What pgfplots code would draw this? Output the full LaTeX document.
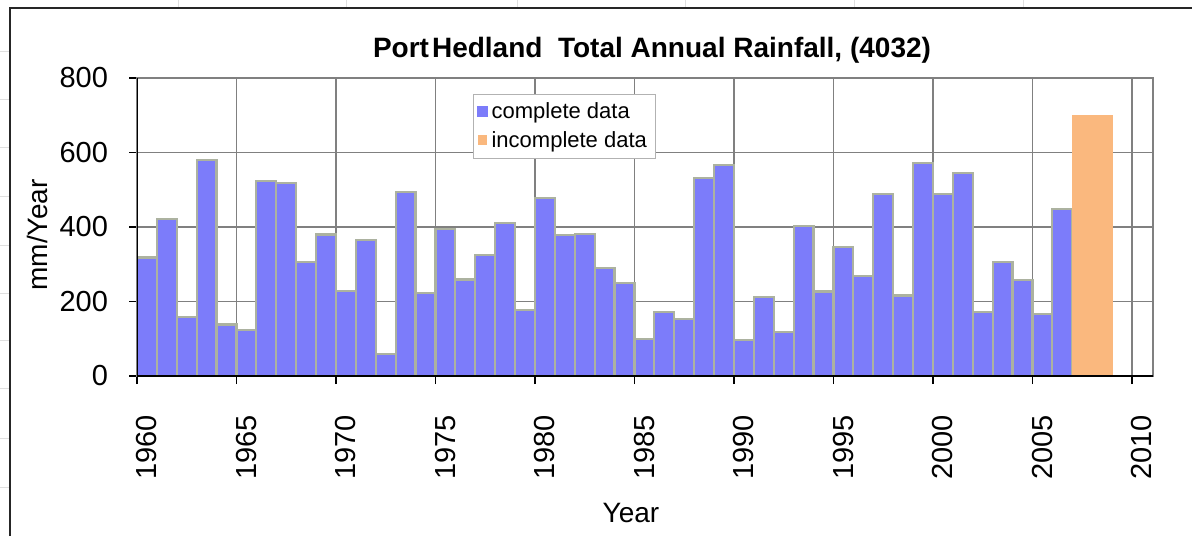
\documentclass[border=0pt]{standalone}
\usepackage{fontspec}
\setmainfont{Liberation Sans}
\usepackage{pgfplots}
\pgfplotsset{compat=1.18}
\definecolor{barblue}{RGB}{124,124,250}
\definecolor{barorange}{RGB}{250,184,126}
\definecolor{baredge}{RGB}{172,178,160}
\definecolor{gridgray}{RGB}{128,128,128}
\begin{document}
\begin{tikzpicture}
\useasboundingbox (0,0) rectangle (596pt,268pt);
% spreadsheet background lines
\foreach \xx in {178,346,517,685,854,1023} {\draw[gray!25, line width=0.5pt] (\xx*0.5pt,268pt) -- (\xx*0.5pt,264pt);}
\foreach \yy in {52,100,148,197,245,293,340,388,438,487} {\draw[gray!25, line width=0.5pt] (0pt,{(536-\yy)*0.5pt}) -- (5pt,{(536-\yy)*0.5pt});}
% chart area border
\draw[black!85, line width=1pt] (5pt,0pt) -- (5pt,264pt) -- (596pt,264pt);
\begin{axis}[
  at={(68.5pt,80pt)}, anchor=south west,
  scale only axis, width=508pt, height=149pt,
  xmin=1960, xmax=2011.06, ymin=0, ymax=800,
  xtick={1960,1965,...,2010}, ytick={0,200,...,800},
  /pgf/number format/assume math mode=true,
  xticklabel={\pgfmathprintnumber[1000 sep={},fixed,precision=0,assume math mode=true]{\tick}},
  tick pos=left, tick align=outside, major tick length=4pt,
  tick style={black, line width=0.8pt},
  grid=major, major grid style={gridgray, line width=0.6pt},
  axis line style={gridgray, line width=1.2pt},
  ticklabel style={font=\fontsize{14.5}{16}\selectfont},
  yticklabel style={xshift=-7pt},
  xticklabel style={xshift=5pt, yshift=-12pt, rotate=90, anchor=east},
  legend style={at={(0.3307,0.946)}, anchor=north west, draw=gray!60,
    font=\fontsize{11}{12.5}\selectfont, inner xsep=2pt, inner ysep=2pt, row sep=1pt,
    cells={anchor=west}},
  legend cell align=left,
]
\addplot[ybar, bar width=1, bar shift=0pt, fill=barblue, draw=baredge, line width=1.1pt,
  legend image code/.code={\fill[barblue] (0pt,-2pt) rectangle (4pt,2.5pt);}]
coordinates {
(1960.5,318) (1961.5,421) (1962.5,158) (1963.5,580) (1964.5,138)
(1965.5,124) (1966.5,523) (1967.5,518) (1968.5,306) (1969.5,380)
(1970.5,228) (1971.5,365) (1972.5,58) (1973.5,494) (1974.5,223)
(1975.5,394) (1976.5,259) (1977.5,324) (1978.5,410) (1979.5,177)
(1980.5,477) (1981.5,378) (1982.5,382) (1983.5,290) (1984.5,250)
(1985.5,99) (1986.5,171) (1987.5,153) (1988.5,532) (1989.5,566)
(1990.5,96) (1991.5,212) (1992.5,119) (1993.5,403) (1994.5,227)
(1995.5,347) (1996.5,268) (1997.5,489) (1998.5,216) (1999.5,572)
(2000.5,489) (2001.5,545) (2002.5,171) (2003.5,306) (2004.5,257)
(2005.5,167) (2006.5,448)
};
\addlegendentry{complete data\hspace{12pt}}
\addplot[ybar, bar width=2, bar shift=0pt, fill=barorange, draw=barorange, line width=0.5pt,
  legend image code/.code={\fill[barorange] (0pt,-2pt) rectangle (4pt,2.5pt);}]
coordinates {(2008,700)};
\addlegendentry{incomplete data}
\draw[black, line width=1.2pt] (rel axis cs:0,0) -- (rel axis cs:1,0);
\draw[black, line width=1.2pt] (rel axis cs:0,0) -- (rel axis cs:0,1);
\end{axis}
\node[font=\bfseries\fontsize{14}{16}\selectfont, anchor=base] at (326pt,239pt) {Port\hspace{1.5pt}Hedland\ \ Total Annual Rainfall, (4032)};
\node[font=\fontsize{14}{16}\selectfont, anchor=base] at (315.5pt,7pt) {Year};
\node[font=\fontsize{14}{16}\selectfont, rotate=90] at (18.5pt,150.5pt) {mm/Year};
\end{tikzpicture}
\end{document}
